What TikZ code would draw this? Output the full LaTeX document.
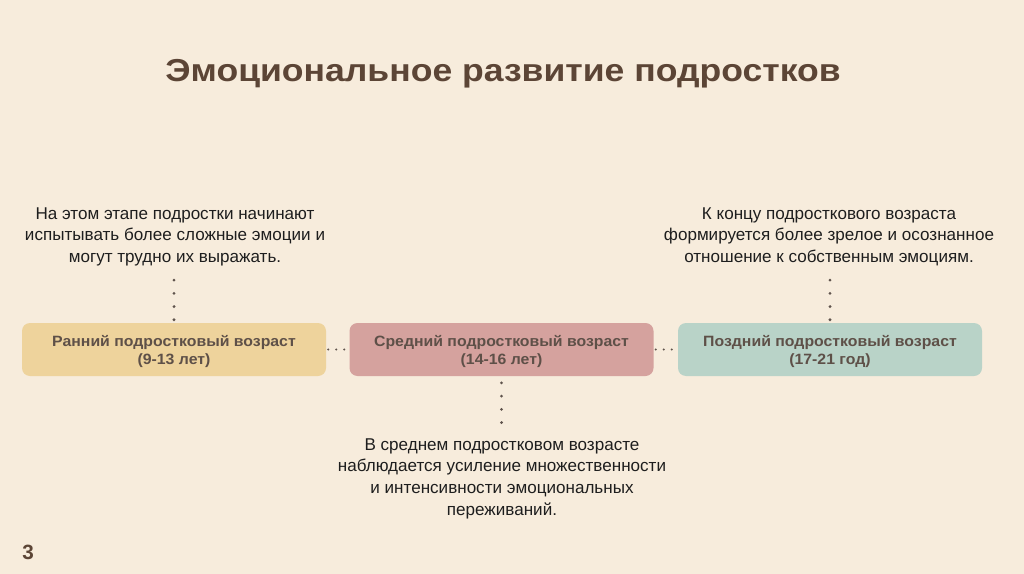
\documentclass[tikz,border=0pt]{standalone}
\usepackage{fontspec}
\setmainfont{Liberation Sans}
\newfontfamily\titlefont[FakeStretch=1.12]{Liberation Sans}
\newfontfamily\stagefont[FakeStretch=1.06]{Liberation Sans}
\definecolor{bg}{HTML}{F7ECDC}
\definecolor{titlec}{HTML}{5C4536}
\definecolor{boxtxt}{HTML}{5E5048}
\definecolor{bodyc}{HTML}{1E1E1E}
\definecolor{dotc}{HTML}{5F534C}
\definecolor{cone}{HTML}{EED39C}
\definecolor{ctwo}{HTML}{D5A29E}
\definecolor{cthree}{HTML}{B9D3C8}
\tikzset{
  stagebox/.style={draw=none, rounded corners=6pt, minimum width=228pt, minimum height=39.75pt,
    align=center, text=boxtxt, text height=25.5pt, font=\stagefont\fontsize{11.2}{13.5}\selectfont\bfseries},
  bodytext/.style={align=center, text=bodyc, inner sep=0pt, font=\fontsize{12.8}{16.2}\selectfont},
  vdots/.style={draw=dotc, line width=2.3pt, line cap=round, dash pattern=on 0pt off 9.9pt},
  hdots/.style={draw=dotc, line width=1.7pt, line cap=round, dash pattern=on 0pt off 6pt},
}
\begin{document}
\begin{tikzpicture}[x=0.75pt,y=-0.75pt]
\fill[bg] (0,0) rectangle (1024,574);
\useasboundingbox (0,0) rectangle (1024,574);
\node[text=titlec, font=\titlefont\fontsize{23.8}{28}\selectfont\bfseries] (title) at (503,74) {Эмоциональное развитие подростков};
\node[stagebox, fill=cone] (b1) at (174,349.5) {Ранний подростковый возраст\\(9-13 лет)};
\node[stagebox, fill=ctwo] (b2) at (501.5,349.5) {Средний подростковый возраст\\(14-16 лет)};
\node[stagebox, fill=cthree] (b3) at (830,349.5) {Поздний подростковый возраст\\(17-21 год)};
\node[bodytext] (t1) at (175,236.5) {На этом этапе подростки начинают\\испытывать более сложные эмоции и\\могут трудно их выражать.};
\node[bodytext] (t2) at (502,478.5) {В среднем подростковом возрасте\\наблюдается усиление множественности\\и интенсивности эмоциональных\\переживаний.};
\node[bodytext] (t3) at (829,236.5) {К концу подросткового возраста\\формируется более зрелое и осознанное\\отношение к собственным эмоциям.};
\node[text=titlec, font=\fontsize{15.5}{18}\selectfont\bfseries] (pg) at (28,552) {3};
\draw[vdots, shorten <=2.25pt, shorten >=8pt] (b1.north) -- (b1.north |- t1.south);
\draw[vdots, shorten <=2.25pt, shorten >=8pt] (b3.north) -- (b3.north |- t3.south);
\draw[vdots, shorten <=5pt, shorten >=8pt] (b2.south) -- (b2.south |- t2.north);
\draw[hdots, shorten <=1.5pt, shorten >=0pt] (b1.east) -- (b2.west);
\draw[hdots, shorten <=1.5pt, shorten >=0pt] (b2.east) -- (b3.west);
\end{tikzpicture}
\end{document}
